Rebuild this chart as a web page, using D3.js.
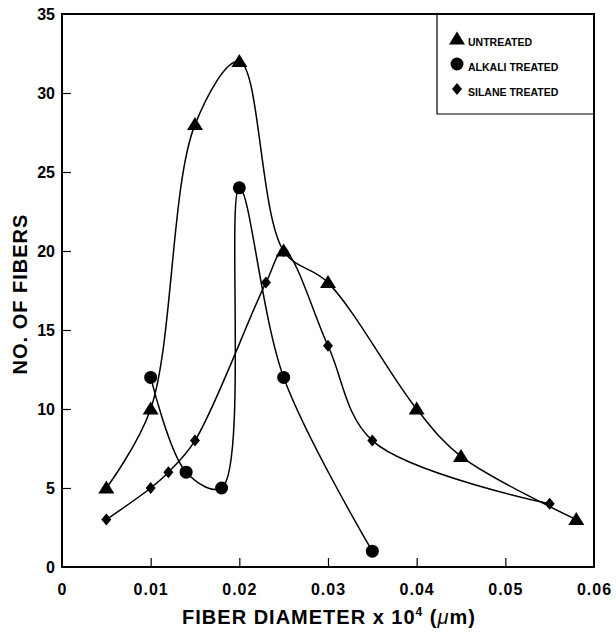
<!DOCTYPE html>
<html>
<head>
<meta charset="utf-8">
<script src="https://cdn.jsdelivr.net/npm/d3@7"></script>
<style>
  html, body { margin: 0; padding: 0; background: #fff; }
  svg { display: block; font-family: "Liberation Sans", Arial, sans-serif; }
</style>
</head>
<body>
<svg id="chart" width="616" height="637"></svg>
<script>
// Fiber diameter distributions (diameter x 10^4 µm, number of fibers)
const untreatedX = [0.005, 0.010, 0.015, 0.020, 0.025, 0.030, 0.040, 0.045, 0.058];
const untreatedY = [5, 10, 28, 32, 20, 18, 10, 7, 3];

const alkaliX = [0.010, 0.014, 0.018, 0.020, 0.025, 0.035];
const alkaliY = [12, 6, 5, 24, 12, 1];

const silaneX = [0.005, 0.010, 0.012, 0.015, 0.023, 0.025, 0.030, 0.035, 0.055];
const silaneY = [3, 5, 6, 8, 18, 20, 14, 8, 4];

const xTicks = [0, 0.01, 0.02, 0.03, 0.04, 0.05, 0.06];
const xTickLabels = ["0", "0.01", "0.02", "0.03", "0.04", "0.05", "0.06"];
const yTicks = [0, 5, 10, 15, 20, 25, 30, 35];

const legendLabels = ["UNTREATED", "ALKALI TREATED", "SILANE TREATED"];

const svg = d3.select("#chart");
const plotL = 62, plotR = 594, plotT = 14, plotB = 567;

const x = d3.scaleLinear().domain([0, 0.06]).range([plotL, plotR]);
const y = d3.scaleLinear().domain([0, 35]).range([plotB, plotT]);

// Tick marks (pointing inward) and labels
const xAxis = d3.axisBottom(x).tickValues(xTicks)
  .tickFormat((d, i) => xTickLabels[i]).tickSizeInner(-9).tickSizeOuter(0).tickPadding(17);
const gx = svg.append("g").attr("transform", `translate(0,${plotB})`).call(xAxis);
gx.select(".domain").remove();
gx.selectAll(".tick line").attr("stroke", "#000").attr("stroke-width", 1.2)
  .filter(d => d === 0 || d === 0.06).remove();
gx.selectAll(".tick text").attr("font-size", 16).attr("font-weight", "bold")
  .attr("letter-spacing", 1).attr("fill", "#000");

const yAxis = d3.axisLeft(y).tickValues(yTicks).tickSizeInner(-9).tickSizeOuter(0).tickPadding(8);
const gy = svg.append("g").attr("transform", `translate(${plotL},0)`).call(yAxis);
gy.select(".domain").remove();
gy.selectAll(".tick line").attr("stroke", "#000").attr("stroke-width", 1.2)
  .filter(d => d === 0 || d === 35).remove();
gy.selectAll(".tick text").attr("font-size", 16).attr("font-weight", "bold").attr("fill", "#000")
  .attr("x", -7);

// Plot frame
svg.append("rect").attr("x", plotL).attr("y", plotT)
  .attr("width", plotR - plotL).attr("height", plotB - plotT)
  .attr("fill", "none").attr("stroke", "#000").attr("stroke-width", 2);

// Smooth curves through the points
const line = d3.line().x(d => x(d[0])).y(d => y(d[1])).curve(d3.curveCatmullRom.alpha(0.5));
const series = [
  { xs: untreatedX, ys: untreatedY, shape: "triangle" },
  { xs: alkaliX, ys: alkaliY, shape: "circle" },
  { xs: silaneX, ys: silaneY, shape: "diamond" }
];
series.forEach(s => {
  s.pts = s.xs.map((v, i) => [v, s.ys[i]]);
  svg.append("path").datum(s.pts).attr("d", line)
    .attr("fill", "none").attr("stroke", "#000").attr("stroke-width", 1.5);
});

// Marker shapes
function drawMarker(g, shape, cx, cy) {
  if (shape === "triangle") {
    g.append("path").attr("d", `M${cx},${cy - 7.5}L${cx + 8},${cy + 5.5}L${cx - 8},${cy + 5.5}Z`).attr("fill", "#000");
  } else if (shape === "circle") {
    g.append("circle").attr("cx", cx).attr("cy", cy).attr("r", 6.5).attr("fill", "#000");
  } else {
    g.append("path").attr("d", `M${cx},${cy - 6}L${cx + 5},${cy}L${cx},${cy + 6}L${cx - 5},${cy}Z`).attr("fill", "#000");
  }
}
const markers = svg.append("g");
series.forEach(s => s.pts.forEach(p => drawMarker(markers, s.shape, x(p[0]), y(p[1]))));

// Legend box in the upper right corner
const legend = svg.append("g");
legend.append("path").attr("d", `M437,${plotT}V114H${plotR}`)
  .attr("fill", "none").attr("stroke", "#000").attr("stroke-width", 1.2);
const legendY = [40, 65, 90];
series.forEach((s, i) => {
  drawMarker(legend, s.shape, 457, legendY[i] - 1);
  legend.append("text").attr("x", 468).attr("y", legendY[i] + 6)
    .attr("font-size", 10.5).attr("font-weight", "bold").text(legendLabels[i]);
});

// Axis titles
const xt = svg.append("text").attr("x", 329).attr("y", 624).attr("text-anchor", "middle")
  .attr("font-size", 20).attr("font-weight", "bold").attr("letter-spacing", 1);
xt.append("tspan").text("FIBER DIAMETER x 10");
xt.append("tspan").attr("font-size", 12).attr("dy", -8).text("4");
xt.append("tspan").attr("dy", 8).text(" (");
xt.append("tspan").attr("font-style", "italic").attr("font-weight", "normal").text("μ");
xt.append("tspan").text("m)");

svg.append("text").attr("transform", "translate(27,294) rotate(-90)")
  .attr("text-anchor", "middle").attr("font-size", 20).attr("font-weight", "bold")
  .attr("letter-spacing", 1).text("NO. OF FIBERS");
</script>
</body>
</html>
